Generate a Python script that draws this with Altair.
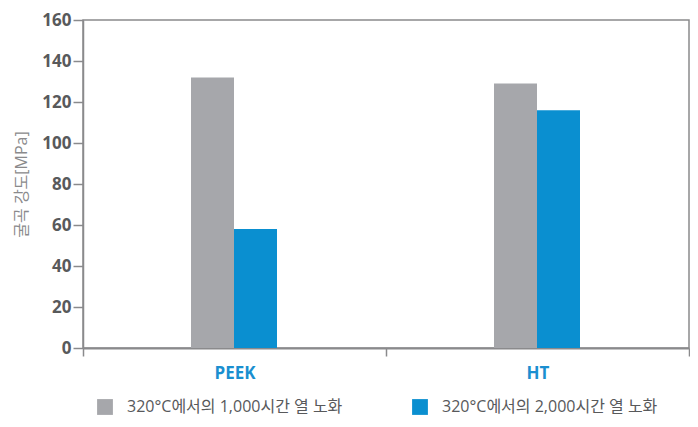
import altair as alt
import pandas as pd

materials = ["PEEK", "HT"]
series = ["320°C에서의 1,000시간 열 노화", "320°C에서의 2,000시간 열 노화"]
values_1000 = [132, 129]
values_2000 = [58, 116]
colors = ["#a6a7ab", "#0a8fd0"]

rows = []
for i, m in enumerate(materials):
    rows.append({"material": m, "series": series[0], "value": values_1000[i]})
    rows.append({"material": m, "series": series[1], "value": values_2000[i]})
df = pd.DataFrame(rows)

FONT = "Open Sans, Noto Sans CJK KR, sans-serif"
AXIS_COLOR = "#8a8a8c"

chart = alt.Chart(df).mark_bar().encode(
    x=alt.X(
        "material:N",
        sort=materials,
        title=None,
        scale=alt.Scale(paddingInner=0, paddingOuter=0),
        axis=alt.Axis(
            labelAngle=0,
            labelColor="#1a8fd0",
            labelFont=FONT,
            labelFontSize=17,
            labelFontWeight="bold",
            labelPadding=9,
            tickBand="extent",
            tickSize=8,
            tickColor=AXIS_COLOR,
            tickWidth=1.5,
            domainColor=AXIS_COLOR,
            domainWidth=2,
        ),
    ),
    xOffset=alt.XOffset(
        "series:N",
        sort=series,
        scale=alt.Scale(paddingInner=0, paddingOuter=0, range=[108, 194]),
    ),
    y=alt.Y(
        "value:Q",
        title="굴곡 강도[MPa]",
        scale=alt.Scale(domain=[0, 160], nice=False),
        axis=alt.Axis(
            values=[0, 20, 40, 60, 80, 100, 120, 140, 160],
            grid=False,
            labelColor="#58595b",
            labelFont=FONT,
            labelFontSize=17,
            labelFontWeight="bold",
            labelPadding=2,
            tickSize=10,
            tickColor=AXIS_COLOR,
            tickWidth=1.5,
            domainColor=AXIS_COLOR,
            domainWidth=1.5,
            titleFont=FONT,
            titleFontSize=16,
            titleFontWeight="normal",
            titleColor="#8a8a8c",
            titlePadding=12,
        ),
    ),
    color=alt.Color(
        "series:N",
        sort=series,
        scale=alt.Scale(domain=series, range=colors),
        legend=alt.Legend(
            title=None,
            orient="none",
            direction="horizontal",
            legendX=14,
            legendY=379,
            symbolType="square",
            symbolSize=250,
            symbolStrokeWidth=0,
            symbolOpacity=1,
            labelFont=FONT,
            labelFontSize=16,
            labelLimit=400,
            labelColor="#58595b",
            labelOffset=14,
            columnPadding=69,
        ),
    ),
).properties(
    width=606,
    height=328,
    autosize="none",
    padding={"left": 75, "top": 12, "right": 1, "bottom": 71},
).configure_view(
    stroke=AXIS_COLOR,
    strokeWidth=1.5,
)

chart.save("out.html", embed_options={"renderer": "svg", "actions": False})
